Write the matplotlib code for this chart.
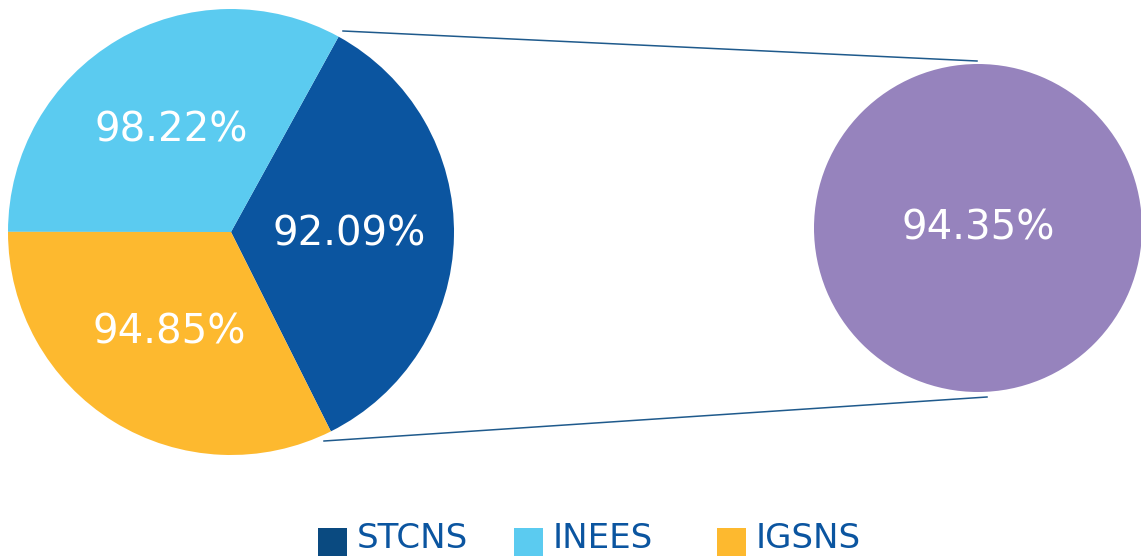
import matplotlib
matplotlib.use('Agg')
import matplotlib.pyplot as plt
from matplotlib.patches import Rectangle

categories = ['STCNS', 'INEES', 'IGSNS']
slice_share = [34.6, 33.0, 32.4]
slice_labels = ['92.09%', '98.22%', '94.85%']
colors = ['#0B55A0', '#5BCBF0', '#FDB92F']
legend_colors = ['#0A4A80', '#5BCBF0', '#FDB92F']

detail_share = [100]
detail_labels = ['94.35%']
detail_color = '#9683BD'

plt.rcParams['font.family'] = ['DejaVu Sans']

W, H = 1141, 556
fig = plt.figure(figsize=(W / 100, H / 100), dpi=100)
ax = fig.add_axes([0, 0, 1, 1])

main_c = (231, H - 232)
main_r = 223
det_c = (978, H - 228)
det_r = 164

ax.pie(slice_share, colors=colors, labels=slice_labels, labeldistance=0.53,
       startangle=-63.4, counterclock=True, center=main_c, radius=main_r,
       textprops=dict(color='white', fontsize=29, ha='center', va='center'),
       wedgeprops=dict(linewidth=0))
ax.pie(detail_share, colors=[detail_color], labels=detail_labels, labeldistance=0.0,
       center=det_c, radius=det_r,
       textprops=dict(color='white', fontsize=29, ha='center', va='center'),
       wedgeprops=dict(linewidth=0))

# connector lines
ax.plot([343, 977], [H - 31, H - 61], color='#1F5A8C', lw=1.1)
ax.plot([324, 987], [H - 441, H - 397], color='#1F5A8C', lw=1.1)

ax.set_xlim(0, W)
ax.set_ylim(0, H)
ax.set_aspect('equal')
ax.axis('off')

# legend drawn by hand, entries sit at the bottom edge
leg_x = [318, 514, 717]
for x, name, c in zip(leg_x, categories, legend_colors):
    ax.add_patch(Rectangle((x, H - 528 - 29), 29, 29, facecolor=c, edgecolor='none', clip_on=False))
    ax.text(x + 39, H - 548, name, color='#0B55A0', fontsize=24.5, ha='left', va='baseline')

fig.savefig('out.png', dpi=100)
